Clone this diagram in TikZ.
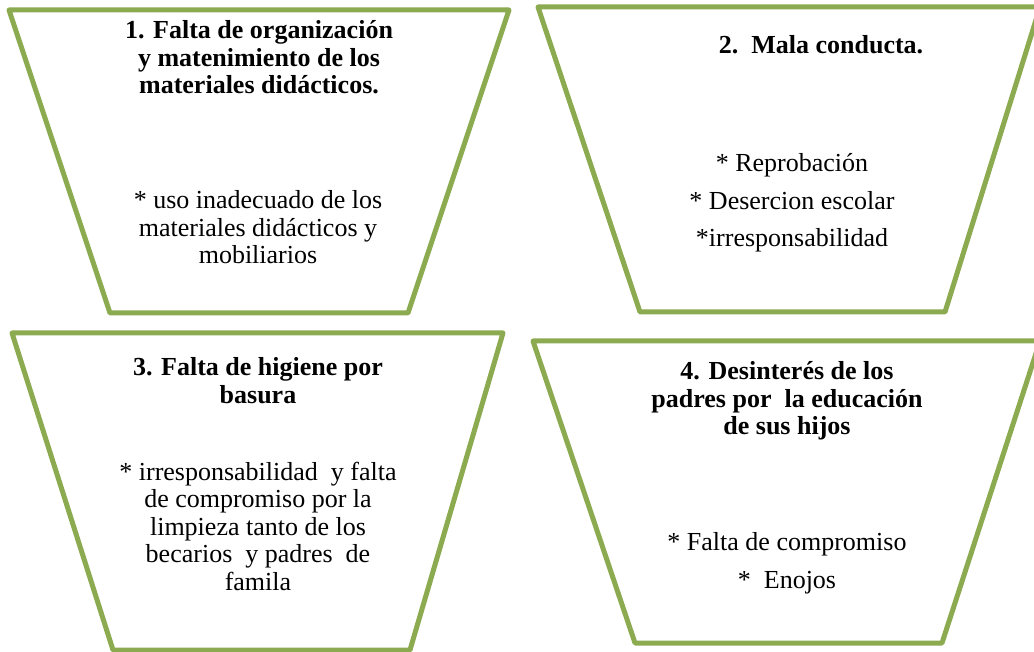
\documentclass[tikz,border=0pt]{standalone}
\usepackage{fontspec}
\setmainfont{Liberation Serif}
\definecolor{cupgreen}{RGB}{140,170,80}
\tikzset{
	cup/.style={line width=5pt, color=cupgreen, line join=round},
	head/.style={anchor=base, align=center, inner sep=0pt, font=\bfseries\fontsize{26}{27.5}\selectfont},
	causes/.style={anchor=base, align=center, inner sep=0pt, font=\fontsize{26}{27.5}\selectfont},
	wide/.style={causes, font=\fontsize{26}{37.7}\selectfont}
}

\begin{document}
\begin{tikzpicture}[x=1pt, y=-1pt]
		%%%%% START %%%%%
		\useasboundingbox (0, 0) rectangle (1034, 652);
		
		\draw[cup] (9, 10) -- (509, 10) -- (408, 313) -- (110, 313) -- cycle;
		\draw[cup] (538, 7) -- (1040, 7) -- (945, 312) -- (640, 312) -- cycle;
		\draw[cup] (12, 333) -- (503, 333) -- (410, 650) -- (113, 650) -- cycle;
		\draw[cup] (533, 341) -- (1040, 341) -- (942, 643) -- (635, 643) -- cycle;
		
		% base = last line
		\node[head] (head1) at (259, 94) {1. Falta de organización\\y matenimiento de los\\materiales didácticos.};
		\node[causes] (body1) at (258, 264) {* uso inadecuado de los\\materiales didácticos y\\mobiliarios};
		
		\node[head] (head2) at (821, 54) {2.\ \ Mala conducta.};
		\node[wide] (body2) at (792, 247) {* Reprobación\\* Desercion escolar\\*irresponsabilidad};
		
		\node[head] (head3) at (258, 403) {3. Falta de higiene por\\basura};
		\node[causes] (body3) at (258, 590) {* irresponsabilidad \ y falta\\de compromiso por la\\limpieza tanto de los\\becarios \ y padres \ de\\famila};
		
		\node[head] (head4) at (787, 435) {4. Desinterés de los\\padres por \ la educación\\de sus hijos};
		\node[wide] (body4) at (787, 588) {* Falta de compromiso\\*\ \ Enojos};
		
		%%%%% END %%%%%
	\end{tikzpicture}
\end{document}
